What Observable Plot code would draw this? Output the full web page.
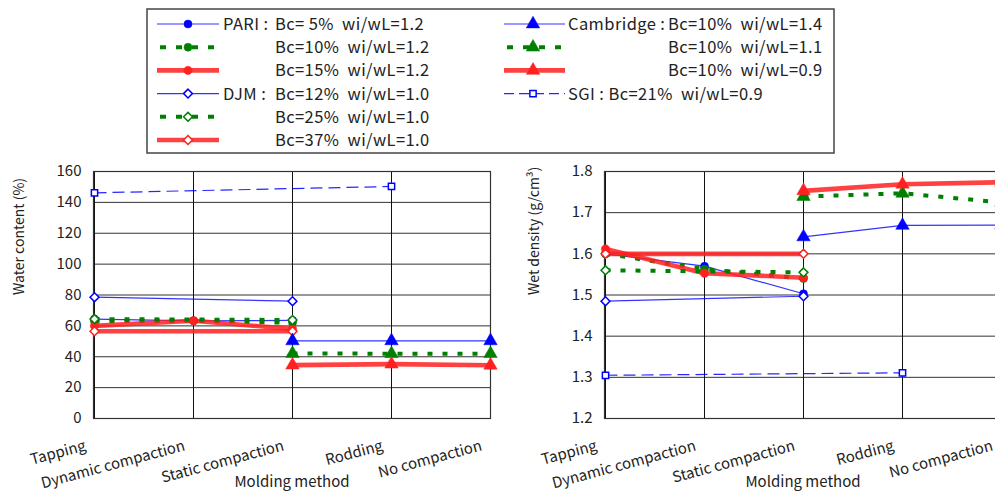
<!DOCTYPE html>
<html><head><meta charset="utf-8">
<script src="https://cdn.jsdelivr.net/npm/d3@7"></script>
<script src="https://cdn.jsdelivr.net/npm/@observablehq/plot@0.6"></script>
<style>
html,body{margin:0;padding:0;background:#fff;overflow:hidden;}
#page{position:relative;width:995px;height:491px;overflow:hidden;font-family:"Noto Sans CJK JP","Noto Sans",sans-serif;}
#legend{position:absolute;left:146px;top:8px;width:689px;height:146px;}
#left{position:absolute;left:0;top:155px;width:500px;height:336px;}
#right{position:absolute;left:510px;top:155px;width:500px;height:336px;}
#left svg,#right svg{max-width:none !important;}
svg text{white-space:pre;}
</style></head><body>
<div id="page"><div id="legend"></div><div id="left"></div><div id="right"></div></div>
<script>
// ---------- data ----------
const categories = ["Tapping", "Dynamic compaction", "Static compaction", "Rodding", "No compaction"];
const seriesKeys = ["PARI5", "PARI10", "PARI15", "DJM12", "DJM25", "DJM37", "CAM14", "CAM11", "CAM09", "SGI"];
const legendPrefix = ["PARI :", "", "", "DJM :", "", "", "Cambridge :", "", "", "SGI : Bc=21%  wi/wL=0.9"];
const legendLabel = ["Bc= 5%  wi/wL=1.2", "Bc=10%  wi/wL=1.2", "Bc=15%  wi/wL=1.2",
  "Bc=12%  wi/wL=1.0", "Bc=25%  wi/wL=1.0", "Bc=37%  wi/wL=1.0",
  "Bc=10%  wi/wL=1.4", "Bc=10%  wi/wL=1.1", "Bc=10%  wi/wL=0.9", ""];

// Water content (%), by category (null = not measured)
const wcPARI5  = [64.4, 63.3, 63.5, null, null];
const wcPARI10 = [63, 63.3, 62, null, null];
const wcPARI15 = [60, 63.3, 58, null, null];
const wcDJM12  = [78.6, null, 76, null, null];
const wcDJM25  = [64.4, null, 63.8, null, null];
const wcDJM37  = [56.5, null, 56.5, null, null];
const wcCAM14  = [null, null, 50.3, 50.3, 50.3];
const wcCAM11  = [null, null, 42.1, 42, 42];
const wcCAM09  = [null, null, 34.6, 35.2, 34.5];
const wcSGI    = [146.2, null, null, 150.3, null];

// Wet density (g/cm3)
const wdPARI5  = [1.60, 1.57, 1.503, null, null];
const wdPARI10 = [1.60, 1.563, 1.54, null, null];
const wdPARI15 = [1.612, 1.553, 1.542, null, null];
const wdDJM12  = [1.485, null, 1.497, null, null];
const wdDJM25  = [1.56, null, 1.555, null, null];
const wdDJM37  = [1.60, null, 1.60, null, null];
const wdCAM14  = [null, null, 1.641, 1.669, 1.67];
const wdCAM11  = [null, null, 1.739, 1.747, 1.725];
const wdCAM09  = [null, null, 1.753, 1.769, 1.774];
const wdSGI    = [1.305, null, null, 1.311, null];

const wcTicks = [0, 20, 40, 60, 80, 100, 120, 140, 160];
const wdTicks = [1.2, 1.3, 1.4, 1.5, 1.6, 1.7, 1.8];

// ---------- styles ----------
const BLUE = "#0000ff", GREEN = "#008000", RED = "#ff2020";
const sStroke = [BLUE, GREEN, RED, BLUE, GREEN, RED, BLUE, GREEN, RED, BLUE];
const sWidth  = [1.2, 4, 4.6, 1.2, 4, 4.6, 1.2, 4, 4.6, 1.2];
const sDash   = [null, "5,10", null, null, "5,10", null, null, "5,10", null, "12,6"];
const sOpacity = [0.8, 1, 0.85, 0.8, 1, 0.85, 0.8, 1, 0.85, 0.85];
const sSymbol = ["circle", "circle", "circle", "diamond2", "diamond2", "diamond2", "triangle", "triangle", "triangle", "square2"];
const sOpen   = [false, false, false, true, true, true, false, false, false, true];
const sR      = [4, 4, 4.2, 4, 4, 4, 5, 5, 5, 4];

function rows(arrs) {
  const out = [];
  seriesKeys.forEach((k, i) => {
    arrs[i].forEach((v, j) => { if (v != null) out.push({key: k, cat: categories[j], value: v}); });
  });
  return out;
}
const wcData = rows([wcPARI5, wcPARI10, wcPARI15, wcDJM12, wcDJM25, wcDJM37, wcCAM14, wcCAM11, wcCAM09, wcSGI]);
const wdData = rows([wdPARI5, wdPARI10, wdPARI15, wdDJM12, wdDJM25, wdDJM37, wdCAM14, wdCAM11, wdCAM09, wdSGI]);

function seriesMarks(data) {
  const lines = [], dots = [];
  seriesKeys.forEach((k, i) => {
    const d = data.filter(r => r.key === k);
    lines.push(Plot.line(d, {x: "cat", y: "value", stroke: sStroke[i], strokeWidth: sWidth[i],
      strokeDasharray: sDash[i], strokeOpacity: sOpacity[i], strokeLinecap: "butt"}));
    dots.push(Plot.dot(d, {x: "cat", y: "value", symbol: () => sSymbol[i], r: sR[i],
      fill: sOpen[i] ? "white" : sStroke[i], stroke: sStroke[i], strokeWidth: sOpen[i] ? 1.5 : 0.5}));
  });
  return [...lines, ...dots];
}

function chart({data, domain, ticks, fmt, yLabel, width, marginLeft, marginRight, labelDx}) {
  const svg = Plot.plot({
    width, height: 336, marginLeft, marginRight, marginTop: 16, marginBottom: 73,
    style: {fontFamily: '"Noto Sans CJK JP","Noto Sans",sans-serif', color: "#222", background: "white", overflow: "visible", maxWidth: "none"},
    x: {type: "point", domain: categories, padding: 0},
    y: {domain, type: "linear"},
    symbol: {type: "identity"},
    marks: [
      Plot.gridY(ticks, {stroke: "#333", strokeOpacity: 1, strokeWidth: 1}),
      Plot.gridX(categories, {stroke: "#111", strokeOpacity: 1, strokeWidth: 1}),
      Plot.frame({stroke: "#333", strokeWidth: 1.2}),
      Plot.axisY(ticks, {tickSize: 0, tickPadding: 12, fontSize: 15, tickFormat: fmt, label: null}),
      Plot.axisX(categories, {tickSize: 0, tickPadding: 27, tickRotate: -15, fontSize: 15, dx: -9, label: null}),
      Plot.text([yLabel], {frameAnchor: "left", rotate: -90, dx: labelDx, fontSize: 14, fill: "#222"}),
      Plot.text(["Molding method"], {frameAnchor: "bottom", dy: 68, fontSize: 15, fill: "#222"}),
      ...seriesMarks(data)
    ]
  });
  svg.style.maxWidth = "none";
  return svg;
}

document.getElementById("left").appendChild(chart({
  data: wcData, domain: [0, 160], ticks: wcTicks, fmt: d3.format("d"),
  yLabel: "Water content (%)", width: 500, marginLeft: 93, marginRight: 10, labelDx: -74
}));
document.getElementById("right").appendChild(chart({
  data: wdData, domain: [1.2, 1.8], ticks: wdTicks, fmt: d3.format(".1f"),
  yLabel: "Wet density (g/cm³)", width: 500, marginLeft: 94, marginRight: 9, labelDx: -70
}));

// ---------- legend ----------
(function legend() {
  const W = 689, H = 146;
  const svg = d3.select("#legend").append("svg").attr("width", W).attr("height", H)
    .style("font-family", '"Noto Sans CJK JP","Noto Sans",sans-serif');
  svg.append("rect").attr("x", 1).attr("y", 1).attr("width", W - 2).attr("height", H - 2)
    .attr("fill", "white").attr("stroke", "#444").attr("stroke-width", 1.5);
  const symMap = {circle: d3.symbolCircle, diamond2: d3.symbolDiamond2, triangle: d3.symbolTriangle, square2: d3.symbolSquare2};
  const cols = [{x1: 11, x2: 73, m: 42, p: 77, l: 129}, {x1: 358, x2: 419, m: 387, p: 422, l: 522}];
  seriesKeys.forEach((k, i) => {
    const c = cols[i < 6 ? 0 : 1];
    const row = i < 6 ? i : i - 6;
    const y = 16 + row * 23.2;
    svg.append("line").attr("x1", c.x1).attr("x2", c.x2).attr("y1", y).attr("y2", y)
      .attr("stroke", sStroke[i]).attr("stroke-width", sWidth[i]).attr("stroke-opacity", sOpacity[i])
      .attr("stroke-dasharray", sDash[i] ? (i === 9 ? "10,5" : "6,10") : null)
      .attr("stroke-dashoffset", sDash[i] ? (i === 9 ? 0 : -3) : null);
    svg.append("path").attr("transform", `translate(${c.m},${y})`)
      .attr("d", d3.symbol(symMap[sSymbol[i]], Math.PI * sR[i] * sR[i])())
      .attr("fill", sOpen[i] ? "white" : sStroke[i]).attr("stroke", sStroke[i])
      .attr("stroke-width", sOpen[i] ? 1.5 : 0.5);
    const t = (x, s) => svg.append("text").attr("x", x).attr("y", y).attr("dy", "0.36em")
      .attr("xml:space", "preserve").attr("font-size", 16.5).attr("letter-spacing", 0.4)
      .attr("fill", "#222").text(s);
    if (legendPrefix[i]) t(c.p, legendPrefix[i]);
    if (legendLabel[i]) t(c.l, legendLabel[i]);
  });
})();
</script>
</body></html>
